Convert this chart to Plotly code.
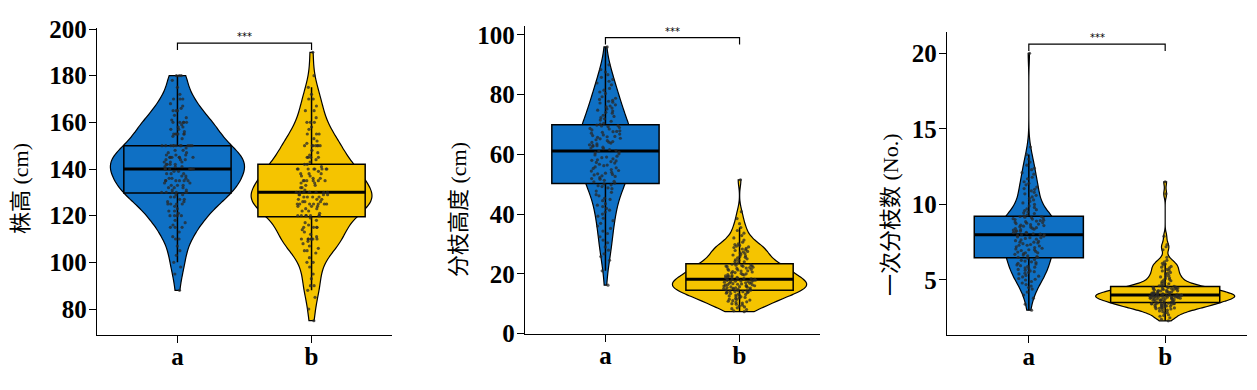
import numpy as np
import plotly.graph_objects as go

# ---------------- data ----------------
categories = ["a", "b"]
y_titles = ["株高 (cm)", "分枝高度 (cm)", "一次分枝数 (No.)"]
y_ticks = [[80, 100, 120, 140, 160, 180, 200],
           [0, 20, 40, 60, 80, 100],
           [5, 10, 15, 20]]
sig_labels = ["***", "***", "***"]

plant_height_a = [88, 95, 98, 100, 103, 105, 107,
                  110, 110, 111, 113, 115, 115, 115, 116, 117, 118,
                  120, 120, 120, 120, 121, 122, 122, 123, 124, 125, 125, 125, 125, 126, 126, 127, 127, 128, 128, 129, 129,
                  130, 130, 130, 130, 130, 130, 131, 131, 132, 132, 132, 133, 133, 133, 134, 134,
                  135, 135, 135, 135, 135, 135, 136, 136, 136, 137, 137, 138, 138, 138, 139, 139,
                  140, 140, 140, 140, 140, 140, 140, 141, 141, 141, 142, 142, 142, 142, 143, 143, 143,
                  144, 144, 144, 145, 145, 145, 145, 145, 145, 146, 146, 146, 147, 147, 148, 148, 149,
                  150, 150, 150, 150, 150, 150, 150, 150, 150, 150, 150, 153, 154,
                  155, 155, 155, 155, 155, 155, 156, 157, 157, 158, 158, 159,
                  160, 160, 160, 160, 160, 161, 162, 163, 165, 165, 165, 166, 167, 168,
                  170, 170, 170, 172, 175, 178, 180, 180, 180]
plant_height_b = [75, 80, 85, 88, 90, 90, 93, 95, 98,
                  100, 100, 102, 104, 105, 105, 106, 107, 108, 109,
                  110, 110, 110, 110, 110, 110, 110, 111, 112, 113, 114, 115, 115, 115, 115, 116, 117, 118, 119,
                  120, 120, 120, 120, 120, 120, 120, 121, 122, 122, 123, 123, 124, 124, 124,
                  125, 125, 125, 125, 125, 125, 125, 126, 126, 126, 127, 127, 127, 128, 128, 128, 128, 129, 129, 129, 129,
                  130, 130, 130, 130, 130, 130, 130, 130, 131, 132, 132, 133, 133, 134, 134,
                  135, 135, 135, 135, 135, 135, 136, 136, 137, 137, 138, 138, 138, 139,
                  140, 140, 140, 140, 140, 140, 140, 140, 141,
                  142, 142, 143, 144, 145, 145, 145, 145, 146, 147, 148,
                  150, 150, 150, 150, 150, 150, 150, 151, 152, 153, 155, 155, 155, 157, 158,
                  160, 160, 160, 162, 165, 165, 167, 170, 170, 172, 175, 180, 190]

branch_height_a = [16.2, 21.0, 24.5, 25.8, 26.7, 27.9, 29.0, 30.4,
                   31.3, 32.4, 33.5, 34.3, 35.2, 36.0, 36.9, 37.8,
                   38.6, 39.3, 40.0, 40.7, 41.3, 41.9, 42.5, 43.0, 43.5, 44.5, 44.9,
                   45.3, 46.1, 46.5, 47.3, 47.7, 48.5, 48.8, 49.2, 49.5, 49.8,
                   50.1, 50.4, 50.8, 51.0, 51.3, 51.7, 51.9, 52.2, 52.6, 52.8, 53.1, 53.3, 53.5, 53.7, 54.0, 54.4,
                   54.6, 54.9, 55.3, 55.5, 55.8, 56.2, 56.4, 56.7, 57.1, 57.3, 57.6, 57.8, 58.0, 58.2, 58.5, 58.9,
                   59.1, 59.4, 59.8, 60.2, 60.5, 60.8, 61.1, 61.3, 61.6, 61.9, 62.1, 62.4, 62.7, 62.9, 63.0,
                   63.2, 63.5, 63.8, 64.0, 64.1, 64.3, 64.6, 64.9, 65.2, 65.4, 65.7, 65.9, 66.0, 66.3, 66.5, 66.8,
                   67.1, 67.4, 67.6, 67.7, 67.9, 68.2, 68.5, 68.7, 69.0, 69.3, 69.5, 69.6, 69.8, 70.1, 70.4,
                   71.1, 71.5, 71.9, 72.3, 72.7, 73.1, 73.8, 74.1, 74.5, 74.8, 75.2, 75.5,
                   75.9, 76.2, 76.6, 77.2, 77.5, 77.8, 78.1, 78.4,
                   78.8, 79.3, 80.4, 80.9, 81.5, 82.1, 83.3, 83.9, 84.5, 85.1,
                   85.8, 86.7, 87.6, 88.4, 90.0, 96.0]
branch_height_b = [7.3, 7.6, 8.0, 8.3, 8.6, 8.9, 9.2, 9.5, 9.8,
                   10.0, 10.2, 10.4, 10.6, 10.8, 11.0, 11.2, 11.4, 11.5, 11.7, 11.9,
                   12.1, 12.3, 12.4, 12.6, 12.8, 12.9, 13.1, 13.2, 13.4, 13.5, 13.7, 13.8, 13.9,
                   14.0, 14.1, 14.2, 14.3,
                   14.4, 14.5, 14.6, 14.7, 14.8, 14.9, 15.0, 15.1, 15.2, 15.3, 15.4, 15.5, 15.6, 15.7,
                   15.8, 15.9, 16.0, 16.1, 16.2, 16.3, 16.4, 16.5, 16.6, 16.7, 16.8, 16.9, 17.0, 17.1,
                   17.2, 17.3, 17.4, 17.5, 17.6, 17.7, 17.8, 17.9, 18.0, 18.1,
                   18.2, 18.3, 18.4, 18.5, 18.7, 18.8, 18.9, 19.0, 19.2, 19.3, 19.4, 19.6, 19.7, 19.8,
                   20.0, 20.1, 20.3, 20.4, 20.6, 20.7, 20.9, 21.0, 21.2, 21.3, 21.5, 21.6, 21.8, 21.9,
                   22.1, 22.2, 22.4, 22.5, 22.6, 22.7, 22.8, 22.9, 23.0,
                   23.2, 23.5, 23.7, 24.0, 24.2, 24.5, 24.7, 25.0, 25.3, 25.5, 25.8, 26.0, 26.3, 26.5,
                   26.8, 27.0, 27.3, 27.5, 27.8, 28.0, 28.3, 28.5, 28.8, 29.0, 29.3, 29.5, 29.8, 30.0,
                   30.6, 31.3, 32.0, 32.8, 33.6, 34.5, 35.5, 36.8, 38.5, 40.8, 51.5]

primary_branches_a = [3.0, 3.4, 3.8, 4.0, 4.2, 4.4, 4.5,
                      4.6, 4.7, 4.8, 4.9, 5.0, 5.05, 5.1, 5.2, 5.25, 5.3, 5.4,
                      5.45, 5.5, 5.55, 5.6, 5.65, 5.7, 5.75, 5.8, 5.85, 5.9, 5.95, 6.0, 6.05, 6.1,
                      6.15, 6.2, 6.25, 6.3, 6.35,
                      6.45, 6.5, 6.5, 6.55, 6.6, 6.65, 6.7, 6.75, 6.8, 6.8, 6.85, 6.9, 6.95, 7.0, 7.0,
                      7.05, 7.1, 7.15, 7.2, 7.25, 7.3, 7.3, 7.35, 7.4, 7.45, 7.5, 7.5, 7.55, 7.6, 7.65,
                      7.7, 7.75, 7.8, 7.8, 7.85, 7.9, 7.95, 8.0, 8.0,
                      8.03, 8.06, 8.1, 8.13, 8.16, 8.2, 8.23, 8.26, 8.3, 8.33, 8.36, 8.4, 8.43, 8.46,
                      8.5, 8.53, 8.56, 8.6, 8.63, 8.66, 8.7, 8.73, 8.76, 8.8, 8.83, 8.86, 8.9, 8.93,
                      8.96, 9.0, 9.03, 9.06, 9.1, 9.13, 9.16, 9.2, 9.2,
                      9.25, 9.3, 9.4, 9.45, 9.5, 9.6, 9.65, 9.7, 9.8,
                      9.9, 10.0, 10.1, 10.2, 10.3, 10.4, 10.5, 10.6, 10.7, 10.8, 10.9, 11.0, 11.05, 11.15,
                      11.3, 11.4, 11.5, 11.7, 11.8, 12.0, 12.1, 12.3, 12.4,
                      12.6, 12.8, 13.0, 13.3, 13.8, 20.0]
primary_branches_b = [2.3, 2.4, 2.5, 2.6, 2.65, 2.7, 2.8, 2.85, 2.9, 2.95,
                      3.0, 3.05, 3.08, 3.1, 3.13, 3.15, 3.18, 3.2,
                      3.22, 3.24, 3.26, 3.28, 3.3, 3.32, 3.34, 3.36, 3.38, 3.4,
                      3.41, 3.42, 3.43, 3.44, 3.45, 3.46, 3.47, 3.48, 3.5,
                      3.52, 3.55, 3.57, 3.6, 3.62, 3.64, 3.66, 3.68, 3.7, 3.71, 3.72, 3.74, 3.75,
                      3.76, 3.78, 3.79, 3.8, 3.81, 3.82, 3.83, 3.84, 3.85, 3.86, 3.87, 3.88, 3.89,
                      3.9, 3.91, 3.92, 3.93, 3.94, 3.95, 3.96, 3.97, 3.98, 3.99, 4.0, 4.0,
                      4.01, 4.02, 4.03, 4.05, 4.06, 4.08, 4.1, 4.11, 4.12, 4.14, 4.15, 4.17, 4.18,
                      4.2, 4.22, 4.23, 4.25, 4.27, 4.28, 4.3, 4.32, 4.34, 4.35, 4.37, 4.39,
                      4.4, 4.42, 4.44, 4.45, 4.47, 4.48, 4.5, 4.52, 4.53, 4.55, 4.56, 4.58,
                      4.62, 4.66, 4.7, 4.75, 4.8, 4.85, 4.9, 4.95, 5.0, 5.05, 5.1, 5.15, 5.2, 5.25,
                      5.3, 5.4, 5.45, 5.5, 5.6, 5.65, 5.7, 5.8, 5.85, 5.9, 6.0, 6.05, 6.1, 6.2, 6.3,
                      6.5, 7.0, 7.2, 7.35, 7.9, 10.7, 11.5]

panels = [
    [plant_height_a, plant_height_b],
    [branch_height_a, branch_height_b],
    [primary_branches_a, primary_branches_b],
]

# ---------------- styling ----------------
colors = ["#0F70C4", "#F5C400"]
violin_widths = [[1.0, 0.9], [0.4, 1.0], [0.42, 1.02]]
box_width = 0.8
serif = "Liberation Serif, Noto Sans CJK SC, serif"
title_font = "Liberation Serif, Noto Sans CJK SC, serif"

# pixel layout of the three panels in the 1257 x 390 window
W, H = 1257, 390
OFF = 8  # page body margin that shifts the figure inside the window
x_px = [(97, 392), (525, 820), (947, 1247)]
y_px = [(27.7, 335), (26, 333.5), (31.7, 335)]
y_ranges = [[68.86, 200.56], [0, 103.0], [1.36, 21.43]]
title_pos = [(20, 189), (458, 210), (890, 215)]


def nrd0(v):
    v = np.asarray(v, float)
    q1, q3 = np.percentile(v, [25, 75])
    s = min(np.std(v, ddof=1), (q3 - q1) / 1.34)
    return 0.9 * s * len(v) ** -0.2


def fx(px):
    return (px - OFF) / W


def fy(py):
    return 1 - (py - OFF) / H


fig = go.Figure()
shapes, annotations = [], []
layout_axes = {}

for p, groups in enumerate(panels):
    xa = "x" if p == 0 else f"x{p+1}"
    ya = "y" if p == 0 else f"y{p+1}"
    for g, vals in enumerate(groups):
        cat = categories[g]
        v = np.asarray(vals, float)
        n = len(v)
        xs = [cat] * n
        # violin body
        fig.add_trace(go.Violin(
            x=xs, y=v, xaxis=xa, yaxis=ya, points=False, spanmode="hard",
            bandwidth=nrd0(v), scalemode="width", width=violin_widths[p][g],
            fillcolor=colors[g], line=dict(color="black", width=1.2),
            box_visible=False, meanline_visible=False, opacity=1,
            showlegend=False, hoverinfo="skip"))
        # box statistics computed from the data
        q1, med, q3 = np.percentile(v, [25, 50, 75])
        iqr = q3 - q1
        lf = v[v >= q1 - 1.5 * iqr].min()
        uf = v[v <= q3 + 1.5 * iqr].max()
        fig.add_trace(go.Box(
            x=[cat], q1=[q1], median=[med], q3=[q3], lowerfence=[lf], upperfence=[uf],
            xaxis=xa, yaxis=ya, width=box_width, whiskerwidth=0,
            fillcolor=colors[g], line=dict(color="black", width=1.5),
            boxpoints=False, showlegend=False, hoverinfo="skip"))
        # thick median
        fig.add_trace(go.Box(
            x=[cat], q1=[med], median=[med], q3=[med], lowerfence=[med], upperfence=[med],
            xaxis=xa, yaxis=ya, width=box_width, whiskerwidth=0,
            fillcolor="rgba(0,0,0,0)", line=dict(color="black", width=3),
            boxpoints=False, showlegend=False, hoverinfo="skip"))
        # jittered raw points
        fig.add_trace(go.Box(
            x=xs, y=v, xaxis=xa, yaxis=ya, width=box_width,
            boxpoints="all", jitter=0.3, pointpos=0,
            fillcolor="rgba(0,0,0,0)", line=dict(color="rgba(0,0,0,0)", width=0),
            marker=dict(color="rgba(40,40,40,0.75)", size=3.2),
            showlegend=False, hoverinfo="skip"))

    # significance bracket computed from the data
    lo, hi = y_ranges[p]
    span = hi - lo
    top = max(max(groups[0]), max(groups[1]))
    yb = top + 0.03 * span
    ytk = yb - 0.022 * span
    shapes.append(dict(type="path", xref=xa, yref=ya,
                       path=f"M 0,{ytk} L 0,{yb} L 1,{yb} L 1,{ytk}",
                       line=dict(color="black", width=1.2)))
    annotations.append(dict(x=0.5, y=yb, xref=xa, yref=ya, text=sig_labels[p],
                            showarrow=False, yanchor="bottom", yshift=-1,
                            font=dict(family="DejaVu Sans", size=10, color="black")))
    # y title
    tx, ty = title_pos[p]
    annotations.append(dict(x=fx(tx), y=fy(ty), xref="paper", yref="paper",
                            text=y_titles[p], textangle=-90, showarrow=False,
                            xanchor="center", yanchor="middle",
                            font=dict(family=title_font, size=22, color="black")))

    axis_common = dict(showline=True, linecolor="black", linewidth=1.3,
                       ticks="outside", ticklen=7, tickwidth=1.3, tickcolor="black",
                       showgrid=False, zeroline=False, automargin=False,
                       tickfont=dict(family=serif, size=25, color="black", weight="bold"))
    xk = "xaxis" if p == 0 else f"xaxis{p+1}"
    yk = "yaxis" if p == 0 else f"yaxis{p+1}"
    layout_axes[xk] = dict(domain=[fx(x_px[p][0]), fx(x_px[p][1])], anchor=ya,
                           type="category", categoryorder="array", categoryarray=categories,
                           range=[-0.6, 1.6], ticklabelstandoff=-8, **axis_common)
    layout_axes[yk] = dict(domain=[fy(y_px[p][1]), fy(y_px[p][0])], anchor=xa,
                           range=y_ranges[p], tickvals=y_ticks[p], ticklabelstandoff=-3,
                           **axis_common)

fig.update_layout(
    template="none",
    width=W, height=H, margin=dict(l=0, r=0, t=0, b=0, autoexpand=False),
    paper_bgcolor="white", plot_bgcolor="white",
    violinmode="overlay", boxmode="overlay",
    shapes=shapes, annotations=annotations, showlegend=False,
    **layout_axes)

fig.write_html("out.html")
